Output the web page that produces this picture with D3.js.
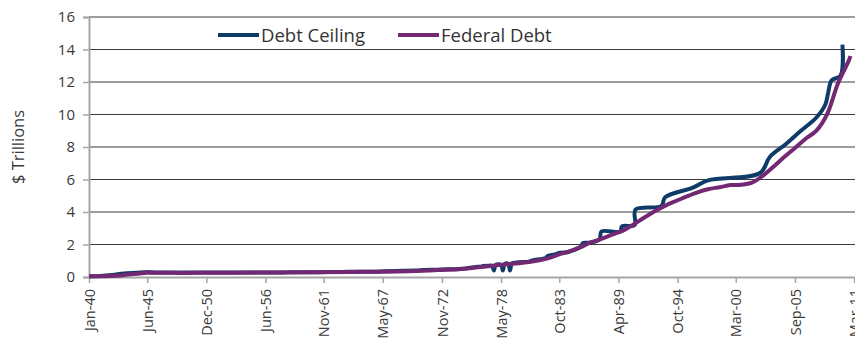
<!DOCTYPE html>
<html>
<head>
<meta charset="utf-8">
<script src="https://cdn.jsdelivr.net/npm/d3@7"></script>
<style>
  body { margin: 0; background: #fff; }
  svg { display: block; font-family: "Open Sans", sans-serif; }
</style>
</head>
<body>
<svg id="chart" width="855" height="339"></svg>
<script>
// debt ceiling, $ trillions, at each change date
var ceilingDates = ["1940-01","1941-02","1942-03","1943-04","1944-06","1945-04","1946-06","1954-08","1956-07",
  "1958-02","1958-09","1959-06","1961-06","1962-07","1963-08","1964-06","1965-06","1966-06","1967-03","1967-06",
  "1969-04","1970-06","1971-03","1972-07","1972-10","1973-12","1974-06","1975-02","1975-06","1975-11","1976-03",
  "1976-06","1976-09","1977-04","1977-07","1977-09","1977-11","1978-05","1978-07","1978-09","1979-01","1979-03",
  "1979-05","1979-09","1980-06","1980-12","1981-02","1981-09","1982-06","1982-09","1983-05","1983-11","1984-07",
  "1984-10","1985-11","1985-12","1986-08","1987-07","1987-09","1989-06","1989-08","1990-10","1990-11","1993-04",
  "1993-08","1996-03","1997-08","2002-06","2003-05","2004-11","2006-03","2007-09","2008-07","2008-10","2009-02",
  "2009-12","2010-02"];
var ceilingValues = [0.045,0.065,0.125,0.21,0.26,0.30,0.275,0.281,0.278,
  0.28,0.288,0.295,0.298,0.308,0.309,0.324,0.328,0.330,0.336,0.358,
  0.377,0.395,0.43,0.45,0.465,0.475,0.495,0.531,0.577,0.595,0.627,
  0.636,0.682,0.70,0.70,0.40,0.752,0.752,0.40,0.798,0.798,0.40,
  0.83,0.879,0.925,0.935,0.985,1.079,1.143,1.29,1.389,1.49,1.52,
  1.573,1.904,2.079,2.111,2.32,2.80,2.80,3.122,3.195,4.145,4.37,
  4.90,5.50,5.95,6.40,7.384,8.184,8.965,9.815,10.615,11.315,12.104,
  12.394,14.294];

// federal debt, $ trillions
var debtDates = ["1940-01","1941-06","1942-06","1943-06","1944-06","1945-06","1946-06","1948-06","1950-06",
  "1955-06","1960-06","1965-06","1970-06","1972-06","1974-06","1975-06","1976-06","1977-09","1978-09","1979-09",
  "1980-09","1981-09","1982-09","1983-09","1984-09","1985-09","1986-09","1987-09","1988-09","1989-09","1990-09",
  "1991-09","1992-09","1993-09","1994-09","1995-09","1996-09","1997-09","1998-09","1999-09","2000-09","2001-09",
  "2002-09","2003-09","2004-09","2005-09","2006-09","2007-09","2008-09","2009-09","2010-09","2010-11"];
var debtValues = [0.043,0.049,0.072,0.137,0.201,0.259,0.269,0.252,0.257,
  0.274,0.286,0.317,0.371,0.427,0.474,0.533,0.620,0.699,0.772,0.827,
  0.908,0.998,1.142,1.377,1.572,1.823,2.125,2.350,2.602,2.857,3.233,
  3.665,4.065,4.411,4.693,4.974,5.225,5.413,5.526,5.656,5.674,5.807,
  6.228,6.783,7.379,7.933,8.507,9.008,10.025,11.910,13.30,13.60];

var tickDates = ["1940-01","1945-06","1950-12","1956-06","1961-11","1967-05","1972-11","1978-05","1983-10",
  "1989-04","1994-10","2000-03","2005-09","2011-03"];
var yTicks = [0, 2, 4, 6, 8, 10, 12, 14, 16];

(function () {
var parse = d3.timeParse("%Y-%m");
var ceiling = ceilingDates.map(function (d, i) { return { date: parse(d), value: ceilingValues[i] }; });
var debt = debtDates.map(function (d, i) { return { date: parse(d), value: debtValues[i] }; });

var svg = d3.select("#chart"),
    left = 89, right = 854, plotTop = 17, plotBottom = 277;

var x = d3.scaleTime().domain([parse("1940-01"), parse("2011-03")]).range([left, right]);
var y = d3.scaleLinear().domain([0, 16]).range([plotBottom, plotTop]);

// gridlines
svg.append("g").selectAll("line")
    .data(yTicks.slice(1))
    .enter().append("line")
    .attr("x1", left).attr("x2", 855)
    .attr("y1", function (d) { return y(d); })
    .attr("y2", function (d) { return y(d); })
    .attr("stroke", "#3a3a3a").attr("stroke-width", 1.2);

// y axis
var yAxis = svg.append("g")
    .attr("transform", "translate(" + left + ",0)")
    .call(d3.axisLeft(y).tickValues(yTicks).tickSize(6).tickPadding(8));
yAxis.select(".domain").attr("stroke", "#a6a6a6").attr("stroke-width", 2);
yAxis.selectAll(".tick line").attr("stroke", "#a6a6a6").attr("stroke-width", 1.5);
yAxis.selectAll("text").attr("font-size", 15).attr("fill", "#3a3a3a")
    .style("font-family", "'Open Sans', sans-serif");

// x axis
var fmt = d3.timeFormat("%b-%y");
var xAxis = svg.append("g")
    .attr("transform", "translate(0," + plotBottom + ")")
    .call(d3.axisBottom(x).tickValues(tickDates.map(parse)).tickFormat(fmt).tickSize(6).tickSizeOuter(0));
xAxis.select(".domain").attr("stroke", "#a6a6a6").attr("stroke-width", 2);
xAxis.selectAll(".tick line").attr("stroke", "#a6a6a6").attr("stroke-width", 1.5);
xAxis.selectAll("text")
    .attr("font-size", 14.5).attr("fill", "#3a3a3a")
    .style("font-family", "'Open Sans', sans-serif")
    .attr("text-anchor", "end")
    .attr("dy", "0.35em")
    .attr("transform", "translate(0,6) rotate(-90)")
    .attr("x", -6).attr("y", 0);

// y title
svg.append("text")
    .attr("transform", "translate(24,147) rotate(-90)")
    .attr("text-anchor", "middle")
    .attr("font-size", 16.5).attr("fill", "#3a3a3a")
    .text("$ Trillions");

var line = d3.line()
    .x(function (d) { return x(d.date); })
    .y(function (d) { return y(d.value); })
    .curve(d3.curveCatmullRom.alpha(0.5));

svg.append("path").datum(ceiling)
    .attr("fill", "none").attr("stroke", "#0f3b68").attr("stroke-width", 4)
    .attr("stroke-linejoin", "round").attr("d", line);

svg.append("path").datum(debt)
    .attr("fill", "none").attr("stroke", "#732873").attr("stroke-width", 4)
    .attr("stroke-linejoin", "round").attr("d", line);

// legend
var legend = [
  { name: "Debt Ceiling", color: "#0f3b68", x: 218 },
  { name: "Federal Debt", color: "#732873", x: 398 }
];
var lg = svg.append("g").selectAll("g").data(legend).enter().append("g");
lg.append("line")
    .attr("x1", function (d) { return d.x; }).attr("x2", function (d) { return d.x + 41; })
    .attr("y1", 35).attr("y2", 35)
    .attr("stroke", function (d) { return d.color; }).attr("stroke-width", 4);
lg.append("text")
    .attr("x", function (d) { return d.x + 43; }).attr("y", 42)
    .attr("font-size", 18.5).attr("fill", "#333")
    .text(function (d) { return d.name; });
})();
</script>
</body>
</html>
